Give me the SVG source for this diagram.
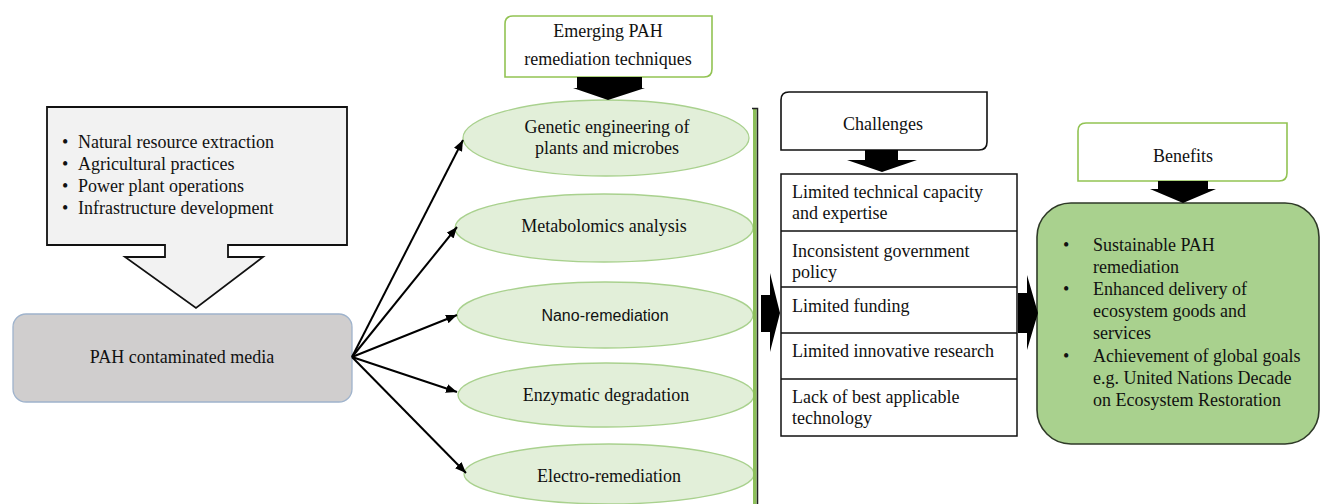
<svg xmlns="http://www.w3.org/2000/svg" width="1321" height="504" viewBox="0 0 1321 504">
<style>
text{font-family:"Liberation Serif","Times New Roman",serif;font-size:18px;fill:#111}
.c{text-anchor:middle}
.ell{fill:#e2efd9;stroke:#a9d18e;stroke-width:1.3}
.blk{fill:#000}
.conn{stroke:#000;stroke-width:2;fill:none}
.lab{fill:#fff;stroke-width:1.6}
</style>
<defs>
<marker id="ah" markerUnits="userSpaceOnUse" markerWidth="12" markerHeight="10" refX="11" refY="4.5" orient="auto">
<path d="M0,0 L11,4.5 L0,9 Z" fill="#000"/>
</marker>
</defs>

<g id="sources">
<path d="M47,107 H347 V245 H228 V257 H263 L196,308 L125,257 H165 V245 H47 Z" fill="#f2f2f2" stroke="#111" stroke-width="1.8"/>
<text x="62" y="148">•</text><text x="78" y="148">Natural resource extraction</text>
<text x="62" y="170">•</text><text x="78" y="170">Agricultural practices</text>
<text x="62" y="192">•</text><text x="78" y="192">Power plant operations</text>
<text x="62" y="214">•</text><text x="78" y="214">Infrastructure development</text>
</g>

<g id="pah-media">
<rect x="13" y="314" width="339" height="88" rx="13" fill="#d0cece" stroke="#9fb3cc" stroke-width="1.3"/>
<text class="c" x="182" y="363">PAH contaminated media</text>
</g>

<g id="emerging">
<path d="M513,16 H712 V69 Q712,77 704,77 H505 V24 Q505,16 513,16 Z" class="lab" stroke="#92c353"/>
<text class="c" x="608" y="37">Emerging PAH</text>
<text class="c" x="608" y="65">remediation techniques</text>
</g>

<g id="genetic">
<ellipse class="ell" cx="606" cy="138" rx="143" ry="38"/>
<text class="c" x="607" y="133">Genetic engineering of</text>
<text class="c" x="607" y="154">plants and microbes</text>
</g>
<g id="metabolomics">
<ellipse class="ell" cx="604" cy="228" rx="149" ry="34"/>
<text class="c" x="604" y="232">Metabolomics analysis</text>
</g>
<g id="nano">
<ellipse class="ell" cx="605" cy="315" rx="148" ry="33"/>
<text class="c" x="605" y="321" style="font-family:'Liberation Sans',Arial,sans-serif;font-size:16px">Nano-remediation</text>
</g>
<g id="enzymatic">
<ellipse class="ell" cx="606" cy="395" rx="148" ry="32"/>
<text class="c" x="606" y="401">Enzymatic degradation</text>
</g>
<g id="electro">
<ellipse class="ell" cx="609" cy="474" rx="145" ry="30"/>
<text class="c" x="609" y="482">Electro-remediation</text>
</g>

<g id="bracket">
<rect x="753" y="109" width="3.6" height="395" fill="#8cbf5a"/>
<path d="M752,108.5 H757.5 V504" fill="none" stroke="#222" stroke-width="1.5"/>
</g>

<g id="challenges">
<path d="M789,92 H987 V142 Q987,150 979,150 H781 V100 Q781,92 789,92 Z" class="lab" stroke="#111"/>
<text class="c" x="883" y="130">Challenges</text>
</g>

<g id="challenge-list">
<rect x="781" y="174" width="236" height="262" fill="#fff" stroke="#111" stroke-width="1.5"/>
<path d="M781,231 H1017 M781,287 H1017 M781,333 H1017 M781,379 H1017" stroke="#111" stroke-width="1.5"/>
<text x="792" y="198">Limited technical capacity</text>
<text x="792" y="219">and expertise</text>
<text x="792" y="257">Inconsistent government</text>
<text x="792" y="278">policy</text>
<text x="792" y="312">Limited funding</text>
<text x="792" y="357">Limited innovative research</text>
<text x="792" y="403">Lack of best applicable</text>
<text x="792" y="424">technology</text>
</g>

<g id="benefits-label">
<path d="M1086,123 H1287 V173 Q1287,181 1279,181 H1078 V131 Q1078,123 1086,123 Z" class="lab" stroke="#92c353"/>
<text class="c" x="1183" y="162">Benefits</text>
</g>

<g id="benefits">
<rect x="1037" y="203" width="282" height="241" rx="34" fill="#a9d18e" stroke="#2f3a28" stroke-width="1.6"/>
<text x="1063" y="251">•</text><text x="1093" y="251">Sustainable PAH</text>
<text x="1093" y="273">remediation</text>
<text x="1063" y="295">•</text><text x="1093" y="295">Enhanced delivery of</text>
<text x="1093" y="317">ecosystem goods and</text>
<text x="1093" y="339">services</text>
<text x="1063" y="362">•</text><text x="1093" y="362">Achievement of global goals</text>
<text x="1093" y="384">e.g. United Nations Decade</text>
<text x="1093" y="406">on Ecosystem Restoration</text>
</g>

<g id="connectors">
<g class="conn" marker-end="url(#ah)">
<line x1="352" y1="357" x2="463" y2="140"/>
<line x1="352" y1="357" x2="457" y2="227"/>
<line x1="352" y1="357" x2="457" y2="315"/>
<line x1="352" y1="357" x2="457" y2="392"/>
<line x1="352" y1="357" x2="466" y2="473"/>
</g>
<path class="blk" d="M577,77 H642 V88 H645 L608,100 L573,88 H577 Z"/>
<path class="blk" d="M865,150 H898 V160 H917 L882,172 L847,160 H865 Z"/>
<path class="blk" d="M1158,181 H1208 V189 H1216 L1183,203 L1150,189 H1158 Z"/>
<path class="blk" d="M761,295 H770 V273 L780,313 L770,352 V332 H761 Z"/>
<path class="blk" d="M1018,293 H1027 V275 L1038,313 L1027,350 V333 H1018 Z"/>
</g>
</svg>
